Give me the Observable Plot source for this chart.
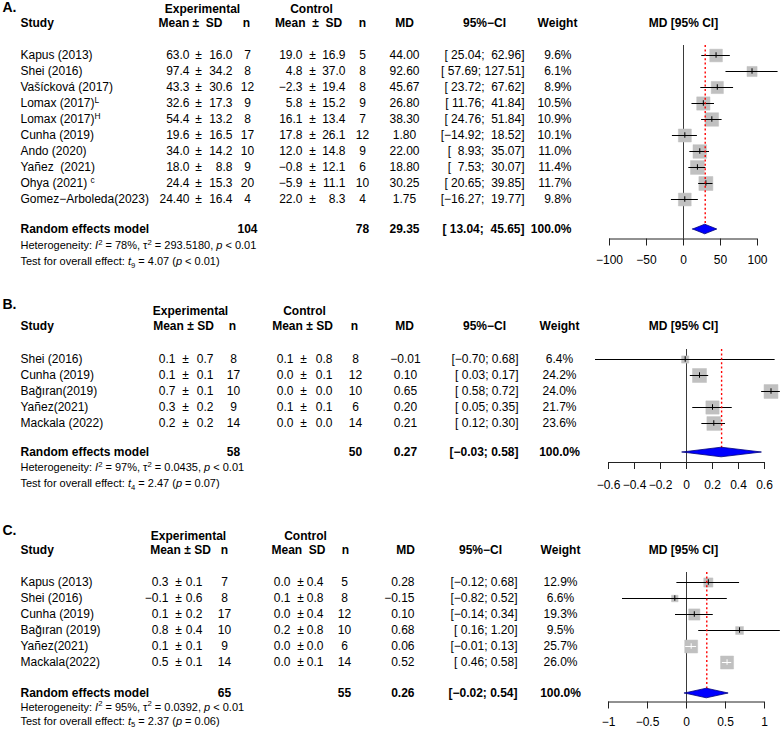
<!DOCTYPE html>
<html><head><meta charset="utf-8">
<script src="https://cdn.jsdelivr.net/npm/d3@7"></script>
<script src="https://cdn.jsdelivr.net/npm/@observablehq/plot@0.6"></script>
<style>
body{margin:0;background:#fff;}
#chart{position:relative;width:782px;height:729px;overflow:hidden;}
#chart svg{position:absolute;left:0;}
#chart svg text{white-space:pre;}
</style></head><body><div id="chart"></div>
<script>
// ---------- Panel A ----------
const aStudies = ["Kapus (2013)", "Shei (2016)", "Vašícková (2017)", "Lomax (2017)<sup>L</sup>", "Lomax (2017)<sup>H</sup>", "Cunha (2019)", "Ando (2020)", "Yañez  (2021)", "Ohya (2021) <sup>c</sup>", "Gomez\u2212Arboleda(2023)"];
const aExpMean = ["63.0", "97.4", "43.3", "32.6", "54.4", "19.6", "34.0", "18.0", "24.4", "24.40"];
const aExpSD = ["16.0", "34.2", "30.6", "17.3", "13.2", "16.5", "14.2", "8.8", "15.3", "16.4"];
const aExpN = [7, 8, 12, 9, 8, 17, 10, 9, 20, 4];
const aCtlMean = ["19.0", "4.8", "\u22122.3", "5.8", "16.1", "17.8", "12.0", "\u22120.8", "\u22125.9", "22.0"];
const aCtlSD = ["16.9", "37.0", "19.4", "15.2", "13.4", "26.1", "14.8", "12.1", "11.1", "8.3"];
const aCtlN = [5, 8, 8, 9, 7, 12, 9, 6, 10, 4];
const aMD = [44.00, 92.60, 45.67, 26.80, 38.30, 1.80, 22.00, 18.80, 30.25, 1.75];
const aLo = [25.04, 57.69, 23.72, 11.76, 24.76, -14.92, 8.93, 7.53, 20.65, -16.27];
const aHi = [62.96, 127.51, 67.62, 41.84, 51.84, 18.52, 35.07, 30.07, 39.85, 19.77];
const aWeight = [9.6, 6.1, 8.9, 10.5, 10.9, 10.1, 11.0, 11.4, 11.7, 9.8];
const aSumMD = 29.35, aSumLo = 13.04, aSumHi = 45.65, aSumNExp = 104, aSumNCtl = 78;
const aTicks = [-100, -50, 0, 50, 100];
const aHet = "Heterogeneity: <i>I</i><sup>2</sup> = 78%, \u03c4<sup>2</sup> = 293.5180, <i>p</i> < 0.01";
const aTest = "Test for overall effect: <i>t</i><sub>9</sub> = 4.07 (<i>p</i> < 0.01)";

// ---------- Panel B ----------
const bStudies = ["Shei (2016)", "Cunha (2019)", "Bağıran(2019)", "Yañez(2021)", "Mackala (2022)"];
const bExpMean = ["0.1", "0.1", "0.7", "0.3", "0.2"];
const bExpSD = ["0.7", "0.1", "0.1", "0.2", "0.2"];
const bExpN = [8, 17, 10, 9, 14];
const bCtlMean = ["0.1", "0.0", "0.0", "0.1", "0.0"];
const bCtlSD = ["0.8", "0.1", "0.0", "0.1", "0.0"];
const bCtlN = [8, 12, 10, 6, 14];
const bMD = [-0.01, 0.10, 0.65, 0.20, 0.21];
const bLo = [-0.70, 0.03, 0.58, 0.05, 0.12];
const bHi = [0.68, 0.17, 0.72, 0.35, 0.30];
const bWeight = [6.4, 24.2, 24.0, 21.7, 23.6];
const bSumMD = 0.27, bSumLo = -0.03, bSumHi = 0.58, bSumNExp = 58, bSumNCtl = 50;
const bTicks = [-0.6, -0.4, -0.2, 0, 0.2, 0.4, 0.6];
const bHet = "Heterogeneity: <i>I</i><sup>2</sup> = 97%, \u03c4<sup>2</sup> = 0.0435, <i>p</i> < 0.01";
const bTest = "Test for overall effect: <i>t</i><sub>4</sub> = 2.47 (<i>p</i> = 0.07)";

// ---------- Panel C ----------
const cStudies = ["Kapus (2013)", "Shei (2016)", "Cunha (2019)", "Bağıran (2019)", "Yañez(2021)", "Mackala(2022)"];
const cExpMean = ["0.3", "\u22120.1", "0.1", "0.8", "0.1", "0.5"];
const cExpSD = ["0.1", "0.6", "0.2", "0.4", "0.1", "0.1"];
const cExpN = [7, 8, 17, 10, 9, 14];
const cCtlMean = ["0.0", "0.1", "0.0", "0.2", "0.0", "0.0"];
const cCtlSD = ["0.4", "0.8", "0.4", "0.8", "0.0", "0.1"];
const cCtlN = [5, 8, 12, 10, 6, 14];
const cMD = [0.28, -0.15, 0.10, 0.68, 0.06, 0.52];
const cLo = [-0.12, -0.82, -0.14, 0.16, -0.01, 0.46];
const cHi = [0.68, 0.52, 0.34, 1.20, 0.13, 0.58];
const cWeight = [12.9, 6.6, 19.3, 9.5, 25.7, 26.0];
const cSumMD = 0.26, cSumLo = -0.02, cSumHi = 0.54, cSumNExp = 65, cSumNCtl = 55;
const cTicks = [-1, -0.5, 0, 0.5, 1];
const cHet = "Heterogeneity: <i>I</i><sup>2</sup> = 95%, \u03c4<sup>2</sup> = 0.0392, <i>p</i> < 0.01";
const cTest = "Test for overall effect: <i>t</i><sub>5</sub> = 2.37 (<i>p</i> = 0.06)";

// ---------- helpers ----------
const FONT = "'Liberation Sans', Arial, Helvetica, sans-serif";
const NS = "http://www.w3.org/2000/svg";
const fmtNum = (v, d) => (v < 0 ? "\u2212" : "") + Math.abs(v).toFixed(d);
const fmtTick = v => (v < 0 ? "\u2212" : "") + String(Math.abs(v));
function ciStrings(lo, hi, d) {
  const L = lo.map(v => fmtNum(v, d)), H = hi.map(v => fmtNum(v, d));
  const wl = d3.max(L, s => s.length), wh = d3.max(H, s => s.length);
  return L.map((l, k) => "[" + l.padStart(wl) + "; " + H[k].padStart(wh) + "]");
}
function richify(svg) {
  svg.querySelectorAll("text").forEach(t => {
    const s = t.textContent;
    if (!/<(i|sup|sub)>/.test(s)) return;
    t.textContent = "";
    const parts = s.split(/(<\/?(?:i|sup|sub)>)/).filter(p => p !== "");
    let it = false, mode = null, pending = 0;
    for (const p of parts) {
      if (p === "<i>") { it = true; continue; }
      if (p === "</i>") { it = false; continue; }
      if (p === "<sup>") { mode = "sup"; pending -= 4.5; continue; }
      if (p === "</sup>") { mode = null; pending += 4.5; continue; }
      if (p === "<sub>") { mode = "sub"; pending += 2.5; continue; }
      if (p === "</sub>") { mode = null; pending -= 2.5; continue; }
      const ts = document.createElementNS(NS, "tspan");
      ts.textContent = p;
      if (it) ts.setAttribute("font-style", "italic");
      if (mode) ts.setAttribute("font-size", "70%");
      if (pending) { ts.setAttribute("dy", pending); pending = 0; }
      t.appendChild(ts);
    }
  });
}

function panel(cfg) {
  const {top, height, L, C, H, d, label} = cfg;
  const u = y => (y - L.row0) / L.step;
  const pxPerUnit = (cfg.xRange[1] - cfg.xRange[0]) / (cfg.xDomain[1] - cfg.xDomain[0]);
  const maxW = d3.max(d.weight);
  const cis = ciStrings([...d.lo, d.sumLo], [...d.hi, d.sumHi], 2);
  const rows = d.studies.map((s, k) => ({
    i: k, study: s, em: d.expMean[k], esd: d.expSD[k], en: String(d.expN[k]),
    cm: d.ctlMean[k], csd: d.ctlSD[k], cn: String(d.ctlN[k]),
    md: d.md[k], mdS: fmtNum(d.md[k], 2), lo: d.lo[k], hi: d.hi[k], ci: cis[k],
    w: d.weight[k], wS: d.weight[k].toFixed(1) + "%",
    col: (d.hi[k] - d.lo[k]) * pxPerUnit < cfg.maxSide * Math.sqrt(d.weight[k] / maxW) ? "white" : "black"
  }));
  const sIdx = u(L.sum);
  const sum = {i: sIdx, study: "Random effects model", en: String(d.sumNExp), cn: String(d.sumNCtl),
    mdS: fmtNum(d.sumMD, 2), ci: cis[cis.length - 1], wS: "100.0%"};
  const T = (data, text, x, anchor, y, o = {}) =>
    Plot.text(data, {text, y, frameAnchor: "left", dx: x, textAnchor: anchor, fontSize: 12, ...o});
  const marks = [];
  marks.push(T([label], d => d, 2, "start", () => u(L.label), {fontWeight: "bold", fontSize: 14}));
  for (const [txt, x, anchor, yy] of H) marks.push(T([txt], t => t, x, anchor, () => u(L[yy]), {fontWeight: "bold"}));
  const cols = [["study", "study", "start"], ["em", "em", "end"], ["pm1", () => "\u00b1", "middle"], ["esd", "esd", "end"],
    ["en", "en", "middle"], ["cm", "cm", "end"], ["pm2", () => "\u00b1", "middle"], ["csd", "csd", "end"],
    ["cn", "cn", "middle"], ["md", "mdS", C.mdAnchor], ["ci", "ci", "end"], ["w", "wS", C.wAnchor]];
  for (const [key, text, anchor] of cols) marks.push(T(rows, text, C[key], anchor, "i"));
  for (const [key, text, anchor] of [["study", "study", "start"], ["en", "en", "middle"], ["cn", "cn", "middle"],
    ["md", "mdS", C.mdAnchor], ["ci", "ci", "end"], ["w", "wS", C.wAnchor]])
    marks.push(T([sum], text, C[key], anchor, "i", {fontWeight: "bold"}));
  marks.push(T([cfg.het], t => t, 20, "start", () => u(L.het), {fontSize: 11}));
  marks.push(T([cfg.test], t => t, 20, "start", () => u(L.test), {fontSize: 11}));
  // forest
  const lineTop = u(L.row0 - 10);
  const axU = u(L.axis);
  marks.push(Plot.ruleX([0], {y1: () => lineTop, y2: () => axU, stroke: "#3a3a3a", strokeWidth: 1}));
  marks.push(Plot.ruleY(rows, {y: "i", x1: "lo", x2: "hi", stroke: "black", strokeWidth: 1}));
  marks.push(Plot.dot(rows, {x: "md", y: "i", r: "w", symbol: "square", fill: "#c0c0c0", stroke: "#c0c0c0", strokeWidth: 0.5}));
  marks.push(Plot.ruleY(rows, {y: "i", x1: "lo", x2: "hi", stroke: "col", strokeWidth: 1}));
  marks.push(Plot.ruleX(rows, {x: "md", y1: r => r.i - 0.17, y2: r => r.i + 0.17, stroke: "col", strokeWidth: 1}));
  marks.push(Plot.ruleX([d.sumMD], {y1: () => lineTop, y2: () => sIdx, stroke: "red", strokeWidth: 1.4, strokeDasharray: "2,2.4"}));
  const dia = [{x: d.sumLo, y1: sIdx, y2: sIdx}, {x: d.sumMD, y1: sIdx - 0.3, y2: sIdx + 0.3}, {x: d.sumHi, y1: sIdx, y2: sIdx}];
  marks.push(Plot.areaY(dia, {x: "x", y1: "y1", y2: "y2", fill: "#0000ff", stroke: "#00007a", strokeWidth: 0.8, curve: "linear"}));
  // axis
  const ticks = cfg.ticks;
  marks.push(Plot.ruleY([axU], {x1: () => ticks[0], x2: () => ticks[ticks.length - 1], stroke: "#222"}));
  marks.push(Plot.ruleX(ticks, {x: t => t, y1: () => axU, y2: () => axU + 7 / L.step, stroke: "#222"}));
  marks.push(Plot.text(ticks, {x: t => t, y: () => u(L.tickLab), text: fmtTick, fontSize: 12}));

  const chart = Plot.plot({
    width: 782, height,
    marginLeft: 0, marginRight: 0, marginTop: 0, marginBottom: 0,
    style: {fontFamily: FONT, fontSize: "12px", background: "transparent", overflow: "visible", color: "#000"},
    x: {domain: cfg.xDomain, range: cfg.xRange, axis: null},
    y: {domain: [0, 1], range: [L.row0 - top, L.row0 - top + L.step], axis: null},
    r: {type: "sqrt", domain: [0, maxW], range: [0, cfg.maxSide / Math.sqrt(Math.PI)]},
    marks
  });
  richify(chart);
  chart.style.top = top + "px";
  document.getElementById("chart").appendChild(chart);
}

panel({
  top: 0, height: 280, label: "A.",
  d: {studies: aStudies, expMean: aExpMean, expSD: aExpSD, expN: aExpN, ctlMean: aCtlMean, ctlSD: aCtlSD, ctlN: aCtlN,
      md: aMD, lo: aLo, hi: aHi, weight: aWeight, sumMD: aSumMD, sumLo: aSumLo, sumHi: aSumHi, sumNExp: aSumNExp, sumNCtl: aSumNCtl},
  L: {row0: 55, step: 16, label: 7, exp: 9, study: 23, sum: 229, axis: 238.5, tickLab: 260, het: 245, test: 261},
  C: {study: 20, em: 189, pm1: 198, esd: 232, en: 247, cm: 302, pm2: 312, csd: 345, cn: 362, md: 404, mdAnchor: "middle", ci: 524, w: 571, wAnchor: "end"},
  H: [["Experimental", 202, "middle", "exp"], ["Control", 311, "middle", "exp"], ["Study", 20, "start", "study"],
      ["Mean \u00b1  SD", 190, "middle", "study"], ["n", 246, "middle", "study"], ["Mean  \u00b1  SD", 308, "middle", "study"],
      ["n", 362, "middle", "study"], ["MD", 404, "middle", "study"], ["95%\u2212CI", 484, "middle", "study"],
      ["Weight", 557, "middle", "study"], ["MD [95% CI]", 683, "middle", "study"]],
  xDomain: [-100, 100], xRange: [609, 757], ticks: aTicks, maxSide: 14, het: aHet, test: aTest
});
panel({
  top: 280, height: 215, label: "B.",
  d: {studies: bStudies, expMean: bExpMean, expSD: bExpSD, expN: bExpN, ctlMean: bCtlMean, ctlSD: bCtlSD, ctlN: bCtlN,
      md: bMD, lo: bLo, hi: bHi, weight: bWeight, sumMD: bSumMD, sumLo: bSumLo, sumHi: bSumHi, sumNExp: bSumNExp, sumNCtl: bSumNCtl},
  L: {row0: 359, step: 16, label: 304, exp: 311, study: 326, sum: 452, axis: 462, tickLab: 485, het: 467, test: 483},
  C: {study: 20, em: 175, pm1: 185, esd: 213, en: 233, cm: 293, pm2: 303, csd: 332, cn: 355, md: 405, mdAnchor: "middle", ci: 518, w: 559, wAnchor: "middle"},
  H: [["Experimental", 190, "middle", "exp"], ["Control", 304, "middle", "exp"], ["Study", 20, "start", "study"],
      ["Mean \u00b1 SD", 183, "middle", "study"], ["n", 232, "middle", "study"], ["Mean \u00b1 SD", 302, "middle", "study"],
      ["n", 354, "middle", "study"], ["MD", 404, "middle", "study"], ["95%\u2212CI", 484, "middle", "study"],
      ["Weight", 559, "middle", "study"], ["MD [95% CI]", 683, "middle", "study"]],
  xDomain: [-0.6, 0.6], xRange: [608, 764], ticks: bTicks, maxSide: 14, het: bHet, test: bTest
});
panel({
  top: 495, height: 234, label: "C.",
  d: {studies: cStudies, expMean: cExpMean, expSD: cExpSD, expN: cExpN, ctlMean: cCtlMean, ctlSD: cCtlSD, ctlN: cCtlN,
      md: cMD, lo: cLo, hi: cHi, weight: cWeight, sumMD: cSumMD, sumLo: cSumLo, sumHi: cSumHi, sumNExp: cSumNExp, sumNCtl: cSumNCtl},
  L: {row0: 582, step: 16, label: 530, exp: 536, study: 550, sum: 693, axis: 701.5, tickLab: 721.5, het: 706.5, test: 720.5},
  C: {study: 20, em: 168, pm1: 178, esd: 202, en: 224, cm: 290, pm2: 300, csd: 323, cn: 344, md: 414, mdAnchor: "end", ci: 517, w: 560, wAnchor: "middle"},
  H: [["Experimental", 188, "middle", "exp"], ["Control", 305, "middle", "exp"], ["Study", 20, "start", "study"],
      ["Mean \u00b1 SD", 180, "middle", "study"], ["n", 224, "middle", "study"], ["Mean  SD", 298, "middle", "study"],
      ["n", 345, "middle", "study"], ["MD", 405, "middle", "study"], ["95%\u2212CI", 480, "middle", "study"],
      ["Weight", 560, "middle", "study"], ["MD [95% CI]", 683, "middle", "study"]],
  xDomain: [-1, 1], xRange: [608, 764], ticks: cTicks, maxSide: 13, het: cHet, test: cTest
});
</script></body></html>
